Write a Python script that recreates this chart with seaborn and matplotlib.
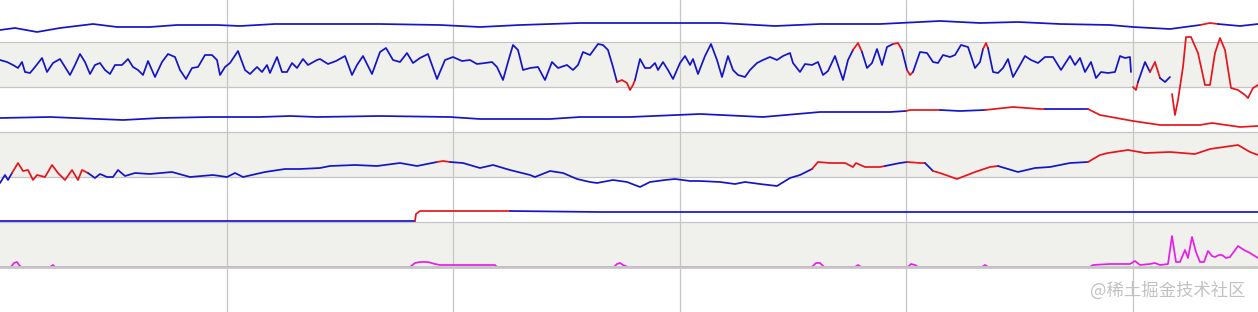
import numpy as np
import pandas as pd
import matplotlib
matplotlib.use("Agg")
import matplotlib.pyplot as plt
import seaborn as sns
from matplotlib.ticker import FixedLocator

# ---------------- data (sample index, signal row level) ----------------
# Track 1 (top)
t1_x = [0, 15, 37, 60, 93, 117, 150, 177, 217, 240,
        275, 317, 380, 440, 480, 520, 580, 620, 690, 720,
        775, 820, 880, 920, 940, 980, 1018, 1060, 1110, 1133,
        1170, 1200, 1210, 1218, 1240, 1258]
t1_y = [30, 28, 32, 28, 24, 27, 27, 25, 25, 26,
        24, 24, 24, 25, 27, 25, 23, 23, 23, 23,
        26, 24, 24, 22, 21, 23, 22, 24, 25, 27,
        29, 25, 23, 24, 26, 24]
t1_alarm = [(1203, 1216)]

# Track 2 (oscillating)
nan = float("nan")
t2_x = [0, 7, 13, 18, 22, 25, 30, 35, 42, 47,
        53, 60, 65, 70, 75, 80, 85, 90, 95, 100,
        105, 110, 115, 122, 128, 133, 138, 143, 148, 155,
        162, 168, 175, 180, 186, 192, 198, 205, 212, 217,
        220, 225, 230, 238, 245, 250, 257, 262, 267, 270,
        277, 282, 287, 292, 297, 303, 308, 317, 320, 328,
        336, 345, 352, 357, 363, 372, 380, 386, 393, 400,
        407, 413, 420, 428, 437, 445, 453, 462, 470, 477,
        485, 492, 497, 503, 508, 513, 518, 523, 530, 538,
        545, 552, 558, 567, 573, 578, 583, 590, 598, 603,
        608, 613, 617, 622, 627, 630, 633, 635, 640, 645,
        650, 655, 658, 663, 668, 673, 680, 685, 690, 693,
        698, 705, 711, 717, 722, 728, 733, 738, 745, 750,
        757, 763, 770, 777, 783, 790, 793, 800, 805, 812,
        818, 823, 828, 835, 843, 848, 853, 858, 862, 867,
        872, 877, 882, 887, 893, 898, 902, 907, 910, 913,
        920, 927, 933, 938, 943, 950, 955, 961, 968, 975,
        980, 983, 986, 988, 993, 998, 1003, 1008, 1013, 1020,
        1025, 1031, 1038, 1045, 1053, 1061, 1070, 1075, 1080, 1085,
        1091, 1096, 1101, 1108, 1115, 1120, 1125, 1130, 1131, 1132,
        1133, 1136, 1138, 1145, 1150, 1155, 1160, 1165, 1170, 1171,
        1172, 1175, 1178, 1183, 1186, 1191, 1198, 1205, 1210, 1215,
        1220, 1225, 1231, 1238, 1245, 1248, 1253, 1258]
t2_y = [60, 62, 65, 68, 62, 72, 73, 67, 58, 72,
        63, 59, 67, 75, 65, 54, 62, 74, 65, 63,
        70, 74, 65, 65, 59, 67, 70, 75, 61, 77,
        62, 54, 57, 70, 79, 68, 67, 55, 55, 60,
        75, 67, 63, 51, 70, 74, 67, 72, 65, 73,
        57, 72, 72, 63, 68, 59, 65, 60, 59, 64,
        61, 56, 75, 65, 56, 74, 52, 48, 60, 62,
        53, 63, 58, 54, 79, 60, 57, 61, 60, 64,
        63, 62, 67, 80, 62, 45, 50, 70, 68, 67,
        80, 62, 68, 65, 70, 65, 52, 55, 44, 45,
        50, 67, 82, 80, 83, 90, 85, 80, 59, 68,
        68, 63, 70, 62, 70, 79, 63, 56, 65, 59,
        74, 56, 44, 60, 77, 56, 70, 75, 77, 70,
        63, 60, 57, 60, 56, 53, 63, 72, 64, 65,
        62, 75, 71, 56, 80, 60, 50, 43, 52, 68,
        63, 49, 65, 47, 44, 43, 50, 70, 75, 72,
        52, 53, 62, 63, 55, 57, 55, 45, 47, 68,
        62, 49, 43, 48, 72, 73, 68, 59, 77, 65,
        56, 60, 63, 57, 57, 70, 56, 65, 58, 72,
        62, 78, 72, 73, 72, 56, 58, 57, 72, nan,
        87, 90, 82, 62, 72, 62, 78, 82, 77, nan,
        94, 115, 100, 67, 37, 37, 53, 85, 85, 53,
        38, 50, 88, 90, 95, 98, 88, 85]
t2_alarm = [(616, 636), (855, 861), (895, 901), (906, 914), (984, 988),
            (1132, 1139), (1152, 1158), (1171, 1259)]

# Track 3
t3_x = [0, 50, 123, 160, 210, 260, 290, 317, 380, 450,
        480, 550, 580, 630, 700, 763, 820, 890, 906, 910,
        940, 960, 985, 1013, 1040, 1045, 1088, 1100, 1133, 1160,
        1200, 1212, 1240, 1258]
t3_y = [118, 117, 120, 118, 117, 117, 116, 117, 116, 117,
        119, 119, 117, 117, 114, 117, 112, 112, 111, 110,
        110, 111, 110, 107, 109, 109, 109, 115, 121, 125,
        125, 123, 127, 126]
t3_alarm = [(908, 937), (987, 1043), (1087, 1259)]

# Track 4
t4_x = [0, 5, 8, 12, 18, 23, 28, 33, 37, 45,
        52, 58, 65, 72, 78, 82, 88, 95, 100, 107,
        113, 118, 125, 135, 150, 172, 190, 213, 227, 235,
        243, 265, 285, 300, 320, 330, 355, 377, 400, 417,
        437, 443, 450, 463, 480, 493, 510, 530, 535, 550,
        563, 577, 590, 597, 613, 627, 640, 650, 665, 675,
        690, 700, 720, 735, 745, 760, 777, 790, 800, 812,
        818, 830, 845, 853, 856, 865, 880, 885, 900, 907,
        920, 925, 933, 940, 957, 975, 990, 998, 1018, 1035,
        1050, 1070, 1088, 1100, 1108, 1128, 1145, 1170, 1195, 1210,
        1238, 1250, 1258]
t4_y = [183, 175, 180, 173, 163, 171, 170, 180, 175, 177,
        165, 173, 180, 170, 180, 170, 173, 178, 174, 177,
        177, 170, 176, 173, 174, 172, 177, 175, 177, 173,
        177, 172, 169, 169, 168, 166, 165, 166, 163, 166,
        162, 161, 162, 163, 168, 165, 170, 175, 177, 171,
        173, 179, 182, 183, 180, 182, 187, 182, 180, 179,
        181, 181, 182, 184, 182, 184, 186, 178, 175, 169,
        162, 163, 163, 167, 163, 167, 167, 166, 163, 162,
        163, 163, 171, 173, 179, 172, 167, 166, 172, 168,
        167, 163, 162, 155, 153, 150, 153, 152, 154, 149,
        145, 152, 155]
t4_alarm = [(12, 88), (435, 452), (812, 885), (906, 925), (935, 998), (1088, 1259)]

# Track 5 (step)
t5_x = [0, 100, 200, 300, 415, 416, 420, 510, 600, 700, 800, 900, 1000, 1100, 1200, 1258]
t5_y = [221, 221, 221, 221, 221, 214, 211, 211, 212, 212, 212, 212, 212, 212, 212, 212]
t5_alarm = [(415, 510)]

# Track 6 (magenta events, baseline hidden under the bottom rule)
t6_x = [0, 11, 14, 17, 19, 21, 50, 53, 55, 410,
        415, 420, 428, 435, 440, 495, 497, 614, 617, 620,
        623, 628, 812, 816, 820, 824, 855, 858, 861, 908,
        911, 915, 918, 982, 985, 988, 1090, 1093, 1110, 1130,
        1135, 1140, 1150, 1155, 1160, 1168, 1172, 1176, 1180, 1185,
        1188, 1192, 1196, 1200, 1204, 1208, 1212, 1215, 1219, 1222,
        1226, 1230, 1238, 1244, 1250, 1258]
t6_y = [267, 267, 263, 262, 265, 267, 267, 265, 267, 267,
        263, 262, 262, 264, 265, 265, 267, 267, 264, 263,
        265, 267, 267, 263, 263, 267, 267, 265, 267, 267,
        264, 265, 267, 267, 265, 267, 267, 265, 264, 264,
        261, 265, 264, 263, 265, 264, 236, 262, 262, 250,
        258, 237, 252, 262, 262, 251, 256, 257, 255, 255,
        258, 257, 246, 250, 253, 258]

grid_samples = [226.6, 453.2, 679.8, 906.4, 1133.0]
band_edges = [0, 42, 87, 132, 177, 222, 267, 312]
watermark = "@稀土掘金技术社区"

BLUE = "#1414c8"
RED = "#e8141c"
MAGENTA = "#e81ee8"
BAND = "#f0f0ec"
GRID = "#c6c6c6"

# ---------------- drawing ----------------
sns.set_theme(style="white")
plt.rcParams['font.family'] = ['Noto Sans CJK SC', 'DejaVu Sans']

fig = plt.figure(figsize=(12.58, 3.12), dpi=100)
ax = fig.add_axes([0, 0, 1, 1])
ax.set_facecolor("white")

for i, (top, bot) in enumerate(zip(band_edges[:-1], band_edges[1:])):
    if i % 2 == 1:
        ax.axhspan(top, bot, color=BAND, lw=0, zorder=0)
for e in band_edges[1:-2]:
    ax.axhline(e, color=GRID, lw=0.9, zorder=1)
ax.axhline(band_edges[-2], color=GRID, lw=2.0, zorder=5)


def draw_track(x, y, alarms, base, alt, lw=1.25, z=3):
    x = np.asarray(x, float)
    y = np.asarray(y, float)
    mids = (x[:-1] + x[1:]) / 2
    red = np.zeros(len(mids), bool)
    for a, b in alarms:
        red |= (mids >= a) & (mids <= b)
    valid = ~(np.isnan(y[:-1]) | np.isnan(y[1:]))
    n = len(mids)
    i = 0
    while i < n:
        if not valid[i]:
            i += 1
            continue
        j = i
        while j + 1 < n and valid[j + 1] and red[j + 1] == red[i]:
            j += 1
        df = pd.DataFrame({"sample": x[i:j + 2], "level": y[i:j + 2]})
        sns.lineplot(data=df, x="sample", y="level", ax=ax,
                     color=alt if red[i] else base, lw=lw,
                     sort=False, estimator=None, zorder=z)
        i = j + 1


draw_track(t1_x, t1_y, t1_alarm, BLUE, RED)
draw_track(t2_x, t2_y, t2_alarm, BLUE, RED)
draw_track(t3_x, t3_y, t3_alarm, BLUE, RED)
draw_track(t4_x, t4_y, t4_alarm, BLUE, RED)
draw_track(t5_x, t5_y, t5_alarm, BLUE, RED)
draw_track(t6_x, t6_y, [], MAGENTA, MAGENTA, z=2)

ax.set_xlim(0, 1258)
ax.set_ylim(312, 0)
ax.xaxis.set_major_locator(FixedLocator(grid_samples))
ax.grid(axis="x", color=GRID, lw=0.9)
ax.grid(axis="y", visible=False)
ax.set_axisbelow(True)
ax.tick_params(length=0, labelbottom=False, labelleft=False)
ax.set_xlabel("")
ax.set_ylabel("")
for s in ax.spines.values():
    s.set_visible(False)

fig.text(0.990, 0.068, watermark, ha="right", va="center",
         color="#c2c2c2", fontsize=12.5)

fig.savefig("out.png", dpi=100)
